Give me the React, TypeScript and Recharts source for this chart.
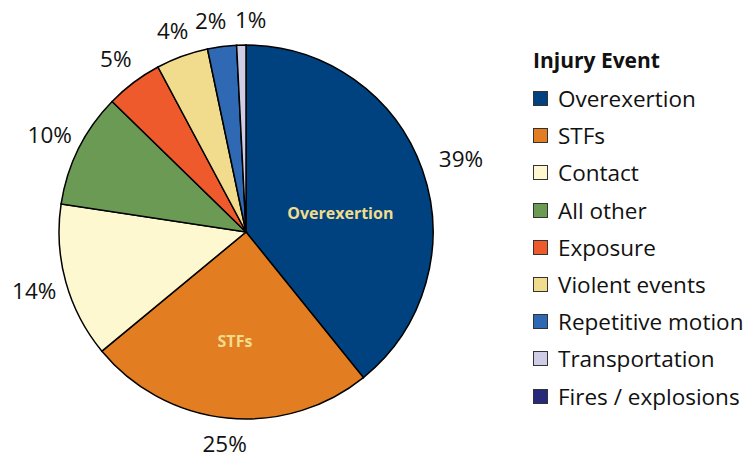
import { Pie, PieChart, Cell, Legend } from 'recharts';

const categories = [
  'Overexertion',
  'STFs',
  'Contact',
  'All other',
  'Exposure',
  'Violent events',
  'Repetitive motion',
  'Transportation',
  'Fires / explosions',
];
// shares; printed labels are the rounded figures
const shares = [39.2, 24.8, 13.4, 9.9, 4.9, 4.5, 2.5, 0.8, 0];
const pctLabels = ['39%', '25%', '14%', '10%', '5%', '4%', '2%', '1%', ''];
const colors = [
  '#00427f',
  '#e27d22',
  '#fdf8d0',
  '#6a9a54',
  '#ee5a2c',
  '#f0dc8c',
  '#2f69b3',
  '#cfcde6',
  '#27297a',
];
const insideNames = ['Overexertion', 'STFs'];

const data = categories.map((name, i) => ({ name, value: shares[i], label: pctLabels[i] }));

const FONT = '"Open Sans", sans-serif';
const RAD = Math.PI / 180;

// small nudges so the crowded labels at the top don't collide
const nudgeX: Record<string, number> = {
  Overexertion: 8,
  'Repetitive motion': -8,
  Transportation: 10,
};
const insideDy: Record<string, number> = { Overexertion: 14, STFs: 0 };

function renderLabel(props: any) {
  const { cx, cy, midAngle, outerRadius, payload, name } = props;
  const text = payload?.label ?? props.label;
  if (!text) return null;
  const cos = Math.cos(-midAngle * RAD);
  const sin = Math.sin(-midAngle * RAD);
  const r = outerRadius + 25 + 8 * Math.abs(cos);
  const x = cx + r * cos + (nudgeX[name] ?? 0);
  const y = cy + r * sin;
  const ri = name === 'STFs' ? 110 : 100;
  return (
    <g>
      <text
        x={x}
        y={y}
        textAnchor="middle"
        dominantBaseline="central"
        fontFamily={FONT}
        fontSize={22.5}
        fill="#111"
      >
        {text}
      </text>
      {insideNames.includes(name) && (
        <text
          x={cx + ri * cos}
          y={cy + ri * sin + (insideDy[name] ?? 0)}
          textAnchor="middle"
          dominantBaseline="central"
          fontFamily={FONT}
          fontSize={16}
          fontWeight="bold"
          fill="#f0dc8c"
        >
          {name}
        </text>
      )}
    </g>
  );
}

function LegendBox() {
  return (
    <div style={{ fontFamily: FONT, color: '#111' }}>
      <div style={{ fontSize: 21, fontWeight: 'bold', height: 40, lineHeight: '40px' }}>
        Injury Event
      </div>
      {categories.map((c, i) => (
        <div
          key={c}
          style={{ display: 'flex', alignItems: 'center', height: 37.2, fontSize: 22.5 }}
        >
          <span
            style={{
              width: 13,
              height: 13,
              background: colors[i],
              border: '1px solid #333',
              marginRight: 10,
              display: 'inline-block',
              flex: 'none',
            }}
          />
          <span style={{ whiteSpace: 'nowrap' }}>{c}</span>
        </div>
      ))}
    </div>
  );
}

export default function App() {
  return (
    <div style={{ position: 'absolute', left: 0, top: 0, background: '#fff' }}>
      <PieChart width={756} height={460} margin={{ top: 0, right: 0, bottom: 0, left: 0 }}>
        <Pie
          data={data}
          dataKey="value"
          nameKey="name"
          cx={246}
          cy={232}
          outerRadius={187}
          startAngle={90}
          endAngle={-270}
          stroke="#000"
          strokeWidth={1.5}
          label={renderLabel}
          labelLine={false}
          isAnimationActive={false}
        >
          {data.map((d, i) => (
            <Cell key={d.name} fill={colors[i]} />
          ))}
        </Pie>
        <Legend
          layout="vertical"
          verticalAlign="top"
          align="right"
          wrapperStyle={{ left: 533, top: 40, width: 223 }}
          content={() => <LegendBox />}
        />
      </PieChart>
    </div>
  );
}
